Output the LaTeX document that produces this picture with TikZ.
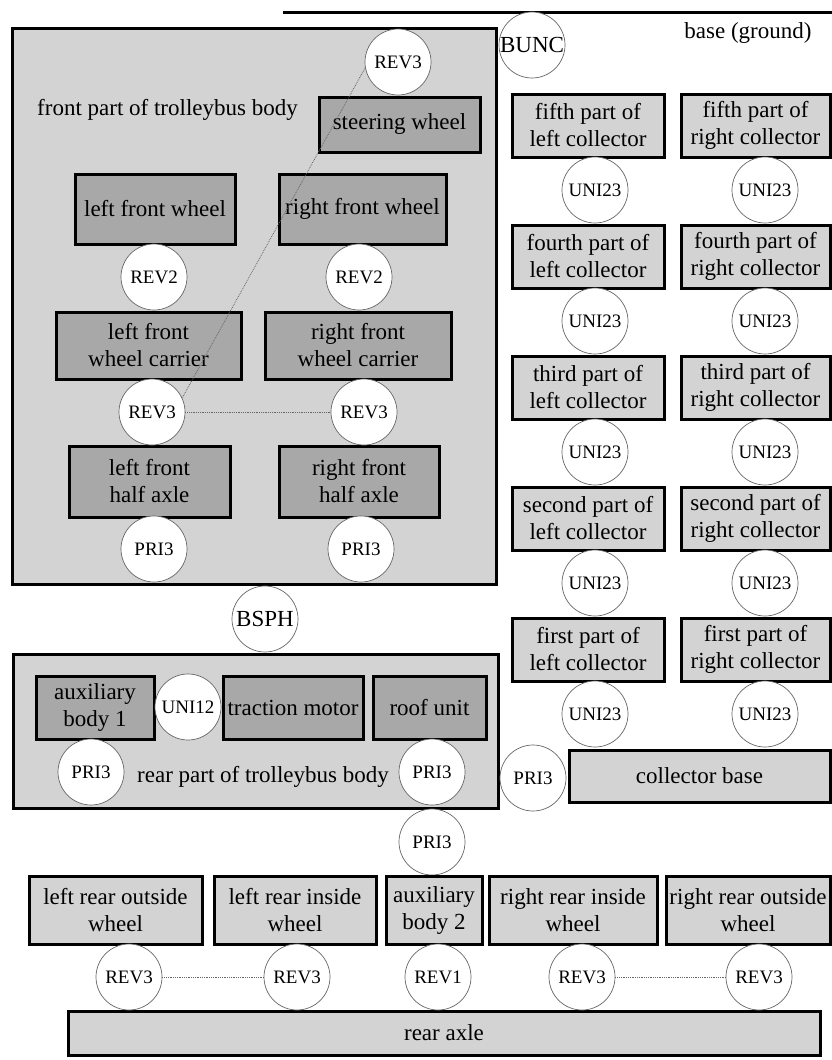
\documentclass[tikz,border=0pt]{standalone}
\usepackage{fontspec}
\setmainfont{Liberation Serif}
\definecolor{boxlight}{HTML}{D3D3D3}
\definecolor{boxdark}{HTML}{A8A8A8}
\definecolor{jointgray}{HTML}{666666}
\begin{document}
\begin{tikzpicture}[x=1pt,y=-1pt,
  lbox/.style={draw=black, line width=3pt, fill=boxlight, inner sep=0pt, align=center, font=\fontsize{23}{27}\selectfont},
  dbox/.style={lbox, fill=boxdark},
  joint/.style={circle, draw=jointgray, line width=0.7pt, fill=white, minimum size=66pt, inner sep=0pt, font=\fontsize{19}{22}\selectfont},
  bigjoint/.style={joint, font=\fontsize{23}{27}\selectfont},
  plain/.style={inner sep=0pt, font=\fontsize{23}{27}\selectfont},
  link/.style={draw=jointgray, densely dotted, line width=0.8pt}]
\useasboundingbox (0,0) rectangle (832,1060);
\fill[white] (0,0) rectangle (832,1060);
% ground
\coordinate (g1) at (283,12);
\coordinate (g2) at (832,12);
\draw[line width=3pt] (g1) -- (g2);
\node[plain] (ground) at (748,33) {base (ground)};
% front part of body
\node[lbox, minimum width=484pt, minimum height=556pt] (front) at (254,306) {};
\node[plain, anchor=west] (frontlbl) at (37,110) {front part of trolleybus body};
\node[dbox, minimum width=161pt, minimum height=55pt] (sw) at (399.5,124.5) {steering wheel};
\node[dbox, minimum width=160pt, minimum height=70pt] (lfw) at (155,209) {left front wheel};
\node[dbox, minimum width=167pt, minimum height=70pt] (rfw) at (362.5,209) {right front wheel};
\node[dbox, minimum width=185pt, minimum height=67pt] (lfwc) at (148.5,345.5) {left front\\wheel carrier};
\node[dbox, minimum width=186pt, minimum height=67pt] (rfwc) at (358,345.5) {right front\\wheel carrier};
\node[dbox, minimum width=161pt, minimum height=71pt] (lfha) at (149.5,481.5) {left front\\half axle};
\node[dbox, minimum width=160pt, minimum height=71pt] (rfha) at (359,481.5) {right front\\half axle};
\node[joint] (revsw) at (398,62) {REV3};
\node[joint] (rev2l) at (154,277) {REV2};
\node[joint] (rev2r) at (359,277) {REV2};
\node[joint] (rev3l) at (152,412) {REV3};
\node[joint] (rev3r) at (364,412) {REV3};
\node[joint] (pri3l) at (154,549) {PRI3};
\node[joint] (pri3r) at (361,549) {PRI3};
\node[bigjoint] (bunc) at (532,45) {BUNC};
% collectors
\node[lbox, minimum width=152pt, minimum height=63pt] (c5l) at (588,125.5) {fifth part of\\left collector};
\node[lbox, minimum width=149pt, minimum height=63pt] (c5r) at (755.5,125.5) {fifth part of\\right collector};
\node[lbox, minimum width=152pt, minimum height=63pt] (c4l) at (588,256.5) {fourth part of\\left collector};
\node[lbox, minimum width=149pt, minimum height=63pt] (c4r) at (755.5,256.5) {fourth part of\\right collector};
\node[lbox, minimum width=152pt, minimum height=63pt] (c3l) at (588,387.5) {third part of\\left collector};
\node[lbox, minimum width=149pt, minimum height=63pt] (c3r) at (755.5,387.5) {third part of\\right collector};
\node[lbox, minimum width=152pt, minimum height=63pt] (c2l) at (588,518.5) {second part of\\left collector};
\node[lbox, minimum width=149pt, minimum height=63pt] (c2r) at (755.5,518.5) {second part of\\right collector};
\node[lbox, minimum width=152pt, minimum height=63pt] (c1l) at (588,649.5) {first part of\\left collector};
\node[lbox, minimum width=149pt, minimum height=63pt] (c1r) at (755.5,649.5) {first part of\\right collector};
\node[lbox, minimum width=261pt, minimum height=52pt] (cbase) at (699.5,776) {collector base};
\foreach \n/\y in {a/190,b/321,c/452,d/583,e/714}{
  \node[joint] (ul\n) at (595,\y) {UNI23};
  \node[joint] (ur\n) at (765,\y) {UNI23};
}
% rear part of body
\node[bigjoint] (bsph) at (265,619) {BSPH};
\node[lbox, minimum width=485pt, minimum height=154pt] (rear) at (255.5,731) {};
\node[dbox, minimum width=118pt, minimum height=63pt] (ab1) at (95,707.5) {auxiliary\\body 1};
\node[dbox, minimum width=140pt, minimum height=63pt] (tm) at (293,707.5) {traction motor};
\node[dbox, minimum width=113pt, minimum height=63pt] (ru) at (429.5,707.5) {roof unit};
\node[joint] (uni12) at (188,707) {UNI12};
\node[plain] (rearlbl) at (263,777) {rear part of trolleybus body};
\node[joint] (pri3a) at (91,772) {PRI3};
\node[joint] (pri3b) at (432,772) {PRI3};
\node[joint] (pri3c) at (533,778) {PRI3};
\node[joint] (pri3d) at (432,842) {PRI3};
% rear wheels
\node[lbox, minimum width=173pt, minimum height=68pt] (lrow) at (115.5,910) {left rear outside\\wheel};
\node[lbox, minimum width=162pt, minimum height=68pt] (lriw) at (295,910) {left rear inside\\wheel};
\node[lbox, minimum width=96pt, minimum height=68pt] (ab2) at (434,910) {auxiliary\\body 2};
\node[lbox, minimum width=168pt, minimum height=68pt] (rriw) at (573,910) {right rear inside\\wheel};
\node[lbox, minimum width=164pt, minimum height=68pt] (rrow) at (748,910) {right rear outside\\wheel};
\node[lbox, minimum width=752pt, minimum height=44pt] (axle) at (444,1033) {rear axle};
\node[joint] (rv1) at (129,977) {REV3};
\node[joint] (rv2) at (297,977) {REV3};
\node[joint] (rv3) at (438,977) {REV1};
\node[joint] (rv4) at (582,977) {REV3};
\node[joint] (rv5) at (759,977) {REV3};
% dotted links
\draw[link] (revsw.190) -- (rev3l.25);
\draw[link] (rev3l) -- (rev3r);
\draw[link] (rv1) -- (rv2);
\draw[link] (rv4) -- (rv5);
\end{tikzpicture}
\end{document}
